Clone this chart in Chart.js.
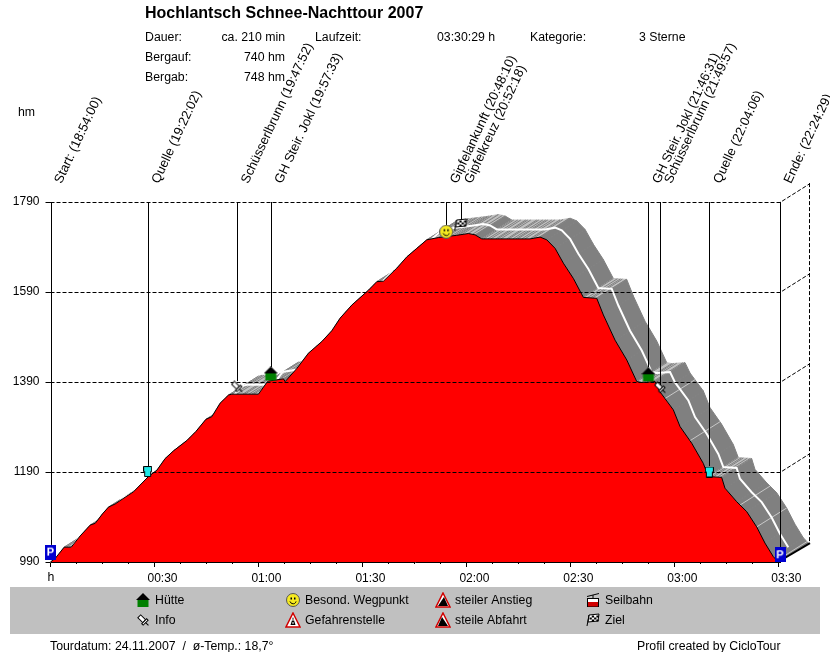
<!DOCTYPE html>
<html>
<head>
<meta charset="utf-8">
<style>html,body{margin:0;padding:0;background:#fff}canvas{display:block}</style>
<script src="https://cdn.jsdelivr.net/npm/chart.js@4"></script>
</head>
<body>
<canvas id="c" width="830" height="652" style="width:830px;height:652px"></canvas>
<script>
const profileTimes = [0,1.36,3.95,5.97,8.57,11.45,12.9,15,16.73,18.66,21.55,23.94,28.27,30.69,33.09,35.48,39.35,41.94,44.83,46.56,48.95,51.35,52.33,60,62.42,62.88,67.21,67.7,71.07,74.42,78.29,81.17,83.57,86.94,91.73,94.15,96.06,99.92,102.8,105.69,108.57,111.92,117.23,120.58,122.5,124.44,138.37,141.26,143.19,145.59,147.98,150.87,153.75,157.61,159.52,162.89,166.27,169.15,170.59,174.43,175.87,179.71,181.64,185,188.36,189.8,193.65,194.6,197.98,200.87,203.75,206.15,208.54,210];
const profileElev = [990,998,1023,1023,1048,1072,1076,1097,1112,1119,1134,1146,1180,1194,1220,1237,1260,1280,1307,1313,1343,1361,1363,1363,1389,1392,1397,1391,1420,1454,1480,1504,1532,1561,1594,1613,1614,1643,1668,1687,1706,1711,1716,1720,1717,1708,1708,1712,1706,1687,1654,1620,1578,1576,1539,1483,1439,1391,1389,1391,1368,1328,1291,1254,1209,1180,1178,1154,1124,1102,1068,1032,1002,990];
const wayTimes = [0,28.03,53.87,63.55,114.17,118.3,172.52,175.95,190.1,210.48];
const wayLabels = ['Start: (18:54:00)','Quelle (19:22:02)','Schüsserlbrunn (19:47:52)','GH Steir. Jokl (19:57:33)','Gipfelankunft (20:48:10)','Gipfelkreuz (20:52:18)','GH Steir. Jokl (21:46:31)','Schüsserlbrunn (21:49:57)','Quelle (22:04:06)','Ende: (22:24:29)'];
const wayElev = [1012,1191,1379,1408,1724,1739,1406,1377,1190,1006];
const wayStemEnd = [1028,1203,1392,1423,1739,1748,1423,1383,1203,1021];
const wayIcons = ['park','spring','pin','hut','smile','flag','hut','pin','spring','park'];
const xTickValues = [0,30,60,90,120,150,180,210];
const xTickLabels = ['','00:30','01:00','01:30','02:00','02:30','03:00','03:30'];
const xMinorStep = 7.5;
const yTickValues = [990,1190,1390,1590,1790];
const bandDepthMinutes = 8.65;
const bandDepthHm = 42;
const bandThinLineTimes = [177.3,184.5,198.95,203.75,209.6];
const hatchSteps = [3,2,4,3,5,2,3,6,2,4];
const legendEntries = [['hut','Hütte',143,600],['pin','Info',143,620],['smile','Besond. Wegpunkt',293,600],['danger','Gefahrenstelle',293,620],['up','steiler Anstieg',443,600],['down','steile Abfahrt',443,620],['cable','Seilbahn',593,600],['flag','Ziel',593,620]];
const infoTexts = [['Dauer:',145,38,'left'],['ca. 210 min',285,38,'left2'],['Laufzeit:',315,38,'left'],['03:30:29 h',437,38,'left'],['Kategorie:',530,38,'left'],['3 Sterne',639,38,'left'],['Bergauf:',145,58,'left'],['740 hm',285,58,'left2'],['Bergab:',145,78,'left'],['748 hm',285,78,'left2'],['hm',18,113,'left'],['h',51,578,'center'],['Tourdatum: 24.11.2007  /  ø-Temp.: 18,7°',50,647,'left'],['Profil created by CicloTour',637,647,'left']];
const titleText = 'Hochlantsch Schnee-Nachttour 2007';

const FONT = '12.3px "Liberation Sans", Arial, sans-serif';
function icon(kind){
  const sizes={park:[11,15],spring:[9,11],pin:[13,13],hut:[14,15],smile:[14,14],flag:[14,14],danger:[16,16],up:[16,16],down:[16,16],cable:[14,16]};
  const [w,h]=sizes[kind]; const cv=document.createElement('canvas'); cv.width=w; cv.height=h;
  const g=cv.getContext('2d');
  const poly=(pts,fill,stroke)=>{g.beginPath();pts.forEach((p,i)=>i?g.lineTo(p[0],p[1]):g.moveTo(p[0],p[1]));g.closePath();if(fill){g.fillStyle=fill;g.fill();}if(stroke){g.strokeStyle=stroke;g.stroke();}};
  if(kind==='park'){g.fillStyle='#0000d0';g.fillRect(0,0,w,h);g.fillStyle='#fff';g.font='bold 11px "Liberation Sans"';g.textAlign='center';g.textBaseline='middle';g.fillText('P',w/2,h/2);}
  if(kind==='spring'){poly([[.5,.5],[8.5,.5],[8.5,5.5],[7.5,5.5],[7.5,10.5],[1.5,10.5],[1.5,5.5],[.5,5.5]],'#20e8e8','#000');}
  if(kind==='pin'){g.lineWidth=1;g.save();g.translate(w/2,h/2);g.rotate(-Math.PI/4);g.fillStyle='#fff';g.strokeStyle='#000';g.fillRect(-2,-6,4,7);g.strokeRect(-2,-6,4,7);g.fillRect(-3.5,1,7,2);g.strokeRect(-3.5,1,7,2);g.beginPath();g.moveTo(0,3);g.lineTo(0,7);g.stroke();g.restore();}
  if(kind==='hut'){poly([[7,0],[14,7],[0,7]],'#000');g.fillStyle='#008000';g.fillRect(1.5,7,11,7);}
  if(kind==='smile'){g.beginPath();g.arc(7,7,6.5,0,7);g.fillStyle='#f6ea20';g.fill();g.strokeStyle='#555';g.stroke();g.fillStyle='#000';g.fillRect(4.5,4.5,1.5,2);g.fillRect(8,4.5,1.5,2);g.beginPath();g.arc(7,7.5,3.2,.3,Math.PI-.3);g.strokeStyle='#000';g.stroke();}
  if(kind==='flag'){g.fillStyle='#fff';g.strokeStyle='#000';poly([[3,2],[13,1],[12,8],[2,9]],'#fff','#000');g.fillStyle='#000';for(let r=0;r<3;r++)for(let c=0;c<4;c++)if((r+c)%2)g.fillRect(3.5+c*2.3,2.5+r*2,2.3,2);g.beginPath();g.moveTo(3,2);g.lineTo(1,13);g.strokeStyle='#000';g.stroke();}
  if(kind==='danger'||kind==='up'||kind==='down'){
    g.lineWidth=1.5;poly([[8,1],[15,15],[1,15]],'#fff','#d00000');g.lineWidth=1;
    if(kind==='danger'){poly([[8,5],[10.5,13],[5.5,13]],'#000');g.fillStyle='#fff';g.fillRect(7.5,7,1,2);g.fillRect(7.5,10,1,2);}
    if(kind==='up')poly([[9,5],[13,14],[3,14]],'#000');
    if(kind==='down')poly([[7,5],[13,14],[3,14]],'#000');
  }
  if(kind==='cable'){g.strokeStyle='#000';g.beginPath();g.moveTo(1,4.5);g.lineTo(13,1.5);g.moveTo(7,3);g.lineTo(7,7);g.stroke();g.strokeRect(1.5,6.5,11,8);g.fillStyle='#d00000';g.fillRect(2,10,10,4.5);g.fillStyle='#fff';g.fillRect(2,7,10,3);}
  return cv;
}
const iconCache={}; const iconOf=k=>iconCache[k]||(iconCache[k]=icon(k));

const profilePoints = profileTimes.map((t,i)=>({x:t,y:profileElev[i]}));
const ridgePoints = profileTimes.map((t,i)=>({x:t+bandDepthMinutes/2,y:profileElev[i]+bandDepthHm/2}));
const wayPoints = wayTimes.map((t,i)=>({x:t,y:wayElev[i]}));

const crisp=v=>Math.round(v)+.5;
function elevAt(t){for(let i=1;i<profileTimes.length;i++){if(t<=profileTimes[i]){const a=(t-profileTimes[i-1])/(profileTimes[i]-profileTimes[i-1]);return profileElev[i-1]+a*(profileElev[i]-profileElev[i-1]);}}return profileElev[profileElev.length-1];}

const bandPlugin={id:'band',beforeDatasetsDraw(chart){
  const {ctx,scales:{x,y}}=chart;
  const P=(t,e)=>[x.getPixelForValue(t),y.getPixelForValue(e)];
  ctx.save();
  const dT=bandDepthMinutes,dE=bandDepthHm;
  let hatchI=0;
  for(let i=1;i<profileTimes.length;i++){
    const t0=profileTimes[i-1],t1=profileTimes[i],e0=profileElev[i-1],e1=profileElev[i];
    const slope=(e1-e0)/(t1-t0);
    const light=slope>-3;
    const col=light?'#c0c0c0':'#808080';
    const q=[P(t0,e0),P(t1,e1),P(t1+dT,e1+dE),P(t0+dT,e0+dE)];
    ctx.beginPath();q.forEach((p,j)=>j?ctx.lineTo(p[0],p[1]):ctx.moveTo(p[0],p[1]));ctx.closePath();
    ctx.fillStyle=col;ctx.strokeStyle=col;ctx.lineWidth=1;ctx.fill();ctx.stroke();
    if(light){
      ctx.strokeStyle='#808080';
      const pxPerMin=x.getPixelForValue(1)-x.getPixelForValue(0);
      let t=t0;
      while(t<t1){
        const a=(t-t0)/(t1-t0),e=e0+a*(e1-e0);
        const A=P(t,e),B=P(t+dT,e+dE);
        ctx.beginPath();ctx.moveTo(A[0],A[1]);ctx.lineTo(B[0],B[1]);ctx.stroke();
        t+=hatchSteps[hatchI++%hatchSteps.length]/pxPerMin;
      }
    }
  }
  ctx.strokeStyle='#c8c8c8';ctx.lineWidth=1;
  bandThinLineTimes.forEach(t=>{const e=elevAt(t),A=P(t,e),B=P(t+dT,e+dE);ctx.beginPath();ctx.moveTo(A[0],A[1]);ctx.lineTo(B[0],B[1]);ctx.stroke();});
  ctx.restore();
},
afterDatasetDraw(chart,args){
  if(chart.data.datasets[args.index].label!=='Höhe')return;
  const {ctx,scales:{x,y}}=chart,a=chart.chartArea;
  const dx=x.getPixelForValue(bandDepthMinutes)-x.getPixelForValue(0);
  const dy=y.getPixelForValue(990+bandDepthHm)-y.getPixelForValue(990);
  ctx.save();ctx.strokeStyle='#000';ctx.lineWidth=1;
  wayTimes.forEach((t,i)=>{const px=crisp(x.getPixelForValue(t));ctx.beginPath();ctx.moveTo(px,a.top);ctx.lineTo(px,y.getPixelForValue(wayStemEnd[i]));ctx.stroke();});
  ctx.setLineDash([4,2]);
  yTickValues.forEach(v=>{const py=crisp(y.getPixelForValue(v)-.5);
    if(v!==990){ctx.beginPath();ctx.moveTo(a.left,py);ctx.lineTo(a.right,py);ctx.lineTo(a.right+dx,py+dy);ctx.stroke();}
  });
  ctx.beginPath();ctx.moveTo(crisp(a.right+dx-.5),a.top+dy);ctx.lineTo(crisp(a.right+dx-.5),a.bottom+dy);ctx.stroke();
  ctx.setLineDash([]);ctx.lineWidth=2;
  ctx.beginPath();ctx.moveTo(a.right-2,a.bottom);ctx.lineTo(a.right+dx,a.bottom+dy);ctx.stroke();
  ctx.lineWidth=1;
  for(let t=xMinorStep;t<=210;t+=xMinorStep){const px=crisp(x.getPixelForValue(t));ctx.beginPath();ctx.moveTo(px,a.bottom);ctx.lineTo(px,a.bottom+2);ctx.stroke();}
  ctx.restore();
}};

const textPlugin={id:'texts',afterDraw(chart){
  const ctx=chart.ctx;ctx.save();
  ctx.fillStyle='#c0c0c0';ctx.fillRect(10,587,810,47);
  ctx.fillStyle='#000';ctx.textBaseline='middle';
  ctx.font='bold 16px "Liberation Sans", Arial, sans-serif';ctx.textAlign='left';
  ctx.fillText(titleText,145,14);
  ctx.font=FONT;
  infoTexts.forEach(([s,px,py,al])=>{ctx.textAlign=al==='left2'?'right':al;ctx.fillText(s,px,py);});
  ctx.textAlign='left';
  legendEntries.forEach(([k,s,px,py])=>{const im=iconOf(k);ctx.drawImage(im,Math.round(px-im.width/2),Math.round(py-im.height/2));ctx.fillStyle='#000';ctx.fillText(s,px+12,py+1);});
  ctx.restore();
}};

const noPad=s=>{s.paddingLeft=0;s.paddingRight=0;s.paddingTop=0;s.paddingBottom=0;};
new Chart(document.getElementById('c'),{
  type:'scatter',
  data:{datasets:[
    {label:'Wegpunkte',data:wayPoints,order:0,clip:false,showLine:false,pointStyle:c=>iconOf(wayIcons[c.dataIndex]),pointRadius:7,pointHoverRadius:7},
    {label:'Höhe',data:profilePoints,order:1,showLine:true,fill:'start',backgroundColor:'#ff0000',borderColor:'#000000',borderWidth:1,pointRadius:0,tension:0,clip:false},
    {label:'Rückseite',data:ridgePoints,order:2,showLine:true,fill:false,borderColor:'#ffffff',borderWidth:2,pointRadius:0,tension:0,clip:false}
  ]},
  options:{
    responsive:false,animation:false,devicePixelRatio:1,
    layout:{padding:{left:0,right:50,top:0,bottom:0}},
    plugins:{legend:{display:false},tooltip:{enabled:false},title:{display:false}},
    events:[],
    scales:{
      x:{type:'linear',position:'bottom',min:0,max:210.48,
        afterBuildTicks(s){s.ticks=xTickValues.map(v=>({value:v}));},
        afterFit(s){s.height=90;noPad(s);},
        border:{color:'#000',width:1},
        grid:{display:true,drawOnChartArea:false,drawTicks:true,tickLength:5,color:'#000'},
        ticks:{autoSkip:false,maxRotation:0,minRotation:0,color:'#000',font:{family:'"Liberation Sans"',size:12},padding:4,labelOffset:8,
          callback(v,i){return xTickLabels[i];}}},
      top:{type:'linear',position:'top',min:0,max:210.48,
        afterBuildTicks(s){s.ticks=wayTimes.map(v=>({value:v}));},
        afterFit(s){s.height=202;noPad(s);},
        border:{display:false},grid:{display:false},
        ticks:{autoSkip:false,minRotation:65,maxRotation:65,color:'#000',font:{family:'"Liberation Sans"',size:13},padding:8,labelOffset:22,
          callback(v,i){return wayLabels[i];}}},
      y:{type:'linear',position:'left',min:990,max:1790,
        afterBuildTicks(s){s.ticks=yTickValues.map(v=>({value:v}));},
        afterFit(s){s.width=50.5;noPad(s);},
        border:{color:'#000',width:1,display:false},
        grid:{display:true,drawOnChartArea:false,drawTicks:true,tickLength:5,color:'#000'},
        ticks:{color:'#000',font:{family:'"Liberation Sans"',size:12},padding:6,callback(v){return String(v);}}}
    }
  },
  plugins:[bandPlugin,textPlugin]
});
</script>
</body>
</html>
